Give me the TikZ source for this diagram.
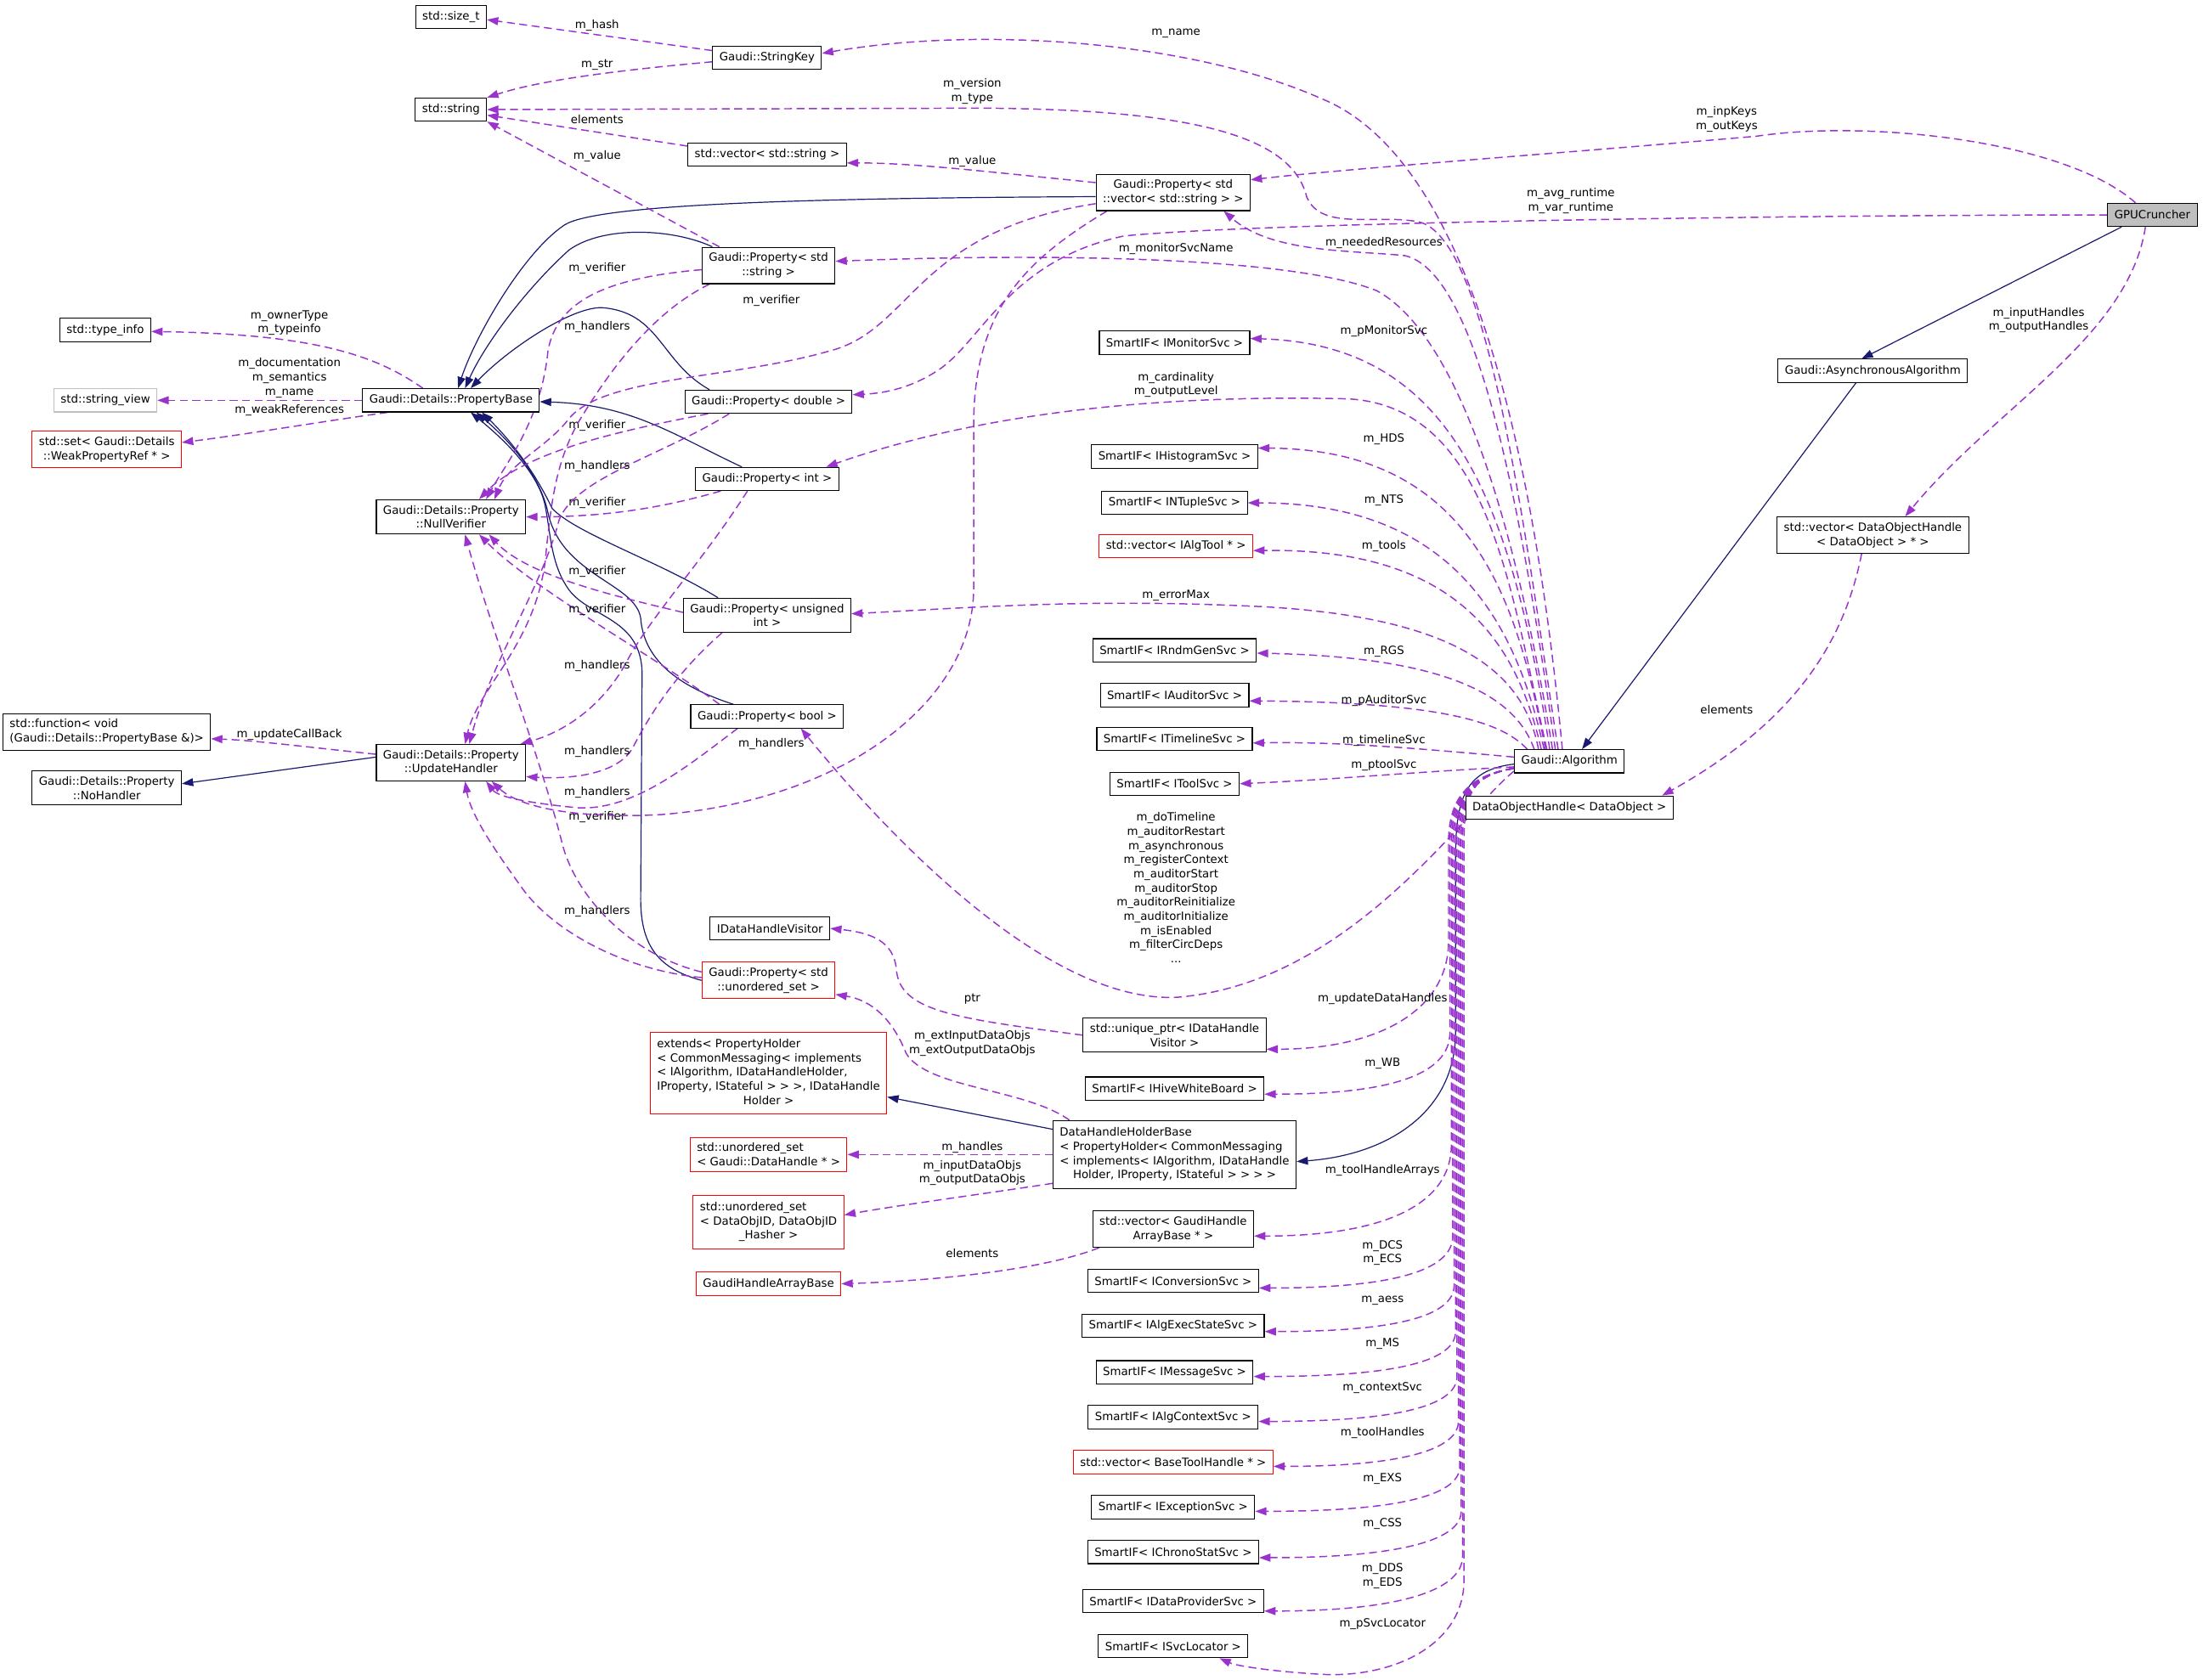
\documentclass[tikz,border=0pt]{standalone}
\usepackage{fontspec}
\setmainfont{DejaVu Sans}
\usepackage{tikz}
\usetikzlibrary{arrows.meta, backgrounds}
\definecolor{cUses}{RGB}{154,50,205}
\definecolor{cInherit}{RGB}{25,25,112}
\definecolor{cGrey}{RGB}{191,191,191}
\tikzset{
	cls/.style     ={rectangle, draw=black, line width=0.8pt, fill=white, inner xsep=6pt, inner ysep=5pt, minimum height=20.5pt, align=center},
	clsred/.style  ={cls, draw=red},
	clsgray/.style ={cls, draw=cGrey},
	clsroot/.style ={cls, fill=cGrey},
	% collaboration edges
	usearrow/.style={draw=cUses, line width=1.1pt, dash pattern=on 7pt off 4pt, -{Triangle[length=10pt, width=7pt]}},
	inharrow/.style={draw=cInherit, line width=0.9pt, -{Triangle[length=10pt, width=7pt]}},
	lbl/.style     ={inner sep=0pt, align=center},
}
\begin{document}
\begin{tikzpicture}[x=1.2405pt, y=-1.2405pt, font=\fontsize{10}{12.5}\selectfont]
	\useasboundingbox (0,0) rectangle (1568,1196);
	% classes
	\node[cls] (sizet) at (321,12) {std::size\_t};
	\node[cls] (strkey) at (546,41) {Gaudi::StringKey};
	\node[cls] (string) at (321,78) {std::string};
	\node[cls] (vecstr) at (546,110) {std::vector< std::string >};
	\node[cls] (pvecstr) at (835,137) {Gaudi::Property< std\\::vector< std::string > >};
	\node[clsroot] (gpu) at (1532,153) {GPUCruncher};
	\node[cls] (pstr) at (547,189) {Gaudi::Property< std\\::string >};
	\node[cls] (monsvc) at (836,244) {SmartIF< IMonitorSvc >};
	\node[cls] (typeinfo) at (75,235) {std::type\_info};
	\node[clsgray] (strview) at (75,285) {std::string\_view};
	\node[cls] (propbase) at (321,285) {Gaudi::Details::PropertyBase};
	\node[clsred] (weakref) at (76,320) {std::set< Gaudi::Details\\::WeakPropertyRef * >};
	\node[cls] (pdouble) at (547,286) {Gaudi::Property< double >};
	\node[cls] (async) at (1333,264) {Gaudi::AsynchronousAlgorithm};
	\node[cls] (hist) at (836,325) {SmartIF< IHistogramSvc >};
	\node[cls] (pint) at (546,341) {Gaudi::Property< int >};
	\node[cls] (nullver) at (321,368) {Gaudi::Details::Property\\::NullVerifier};
	\node[cls] (ntuple) at (836,358) {SmartIF< INTupleSvc >};
	\node[cls] (vecdoh) at (1333,381) {std::vector< DataObjectHandle\\< DataObject > * >};
	\node[clsred] (algtool) at (837,389) {std::vector< IAlgTool * >};
	\node[cls] (punsigned) at (546,438) {Gaudi::Property< unsigned\\int >};
	\node[cls] (rndm) at (836,463) {SmartIF< IRndmGenSvc >};
	\node[cls] (auditor) at (836,495) {SmartIF< IAuditorSvc >};
	\node[cls, align=left] (function) at (76,521) {std::function< void\\(Gaudi::Details::PropertyBase \&)>};
	\node[cls] (pbool) at (546,510) {Gaudi::Property< bool >};
	\node[cls] (timeline) at (836,526) {SmartIF< ITimelineSvc >};
	\node[cls] (updh) at (321,543) {Gaudi::Details::Property\\::UpdateHandler};
	\node[cls] (alg) at (1117,542) {Gaudi::Algorithm};
	\node[cls] (nohandler) at (76,561) {Gaudi::Details::Property\\::NoHandler};
	\node[cls] (toolsvc) at (836,558) {SmartIF< IToolSvc >};
	\node[cls] (doh) at (1117,575) {DataObjectHandle< DataObject >};
	\node[cls] (dhvisitor) at (548,661) {IDataHandleVisitor};
	\node[clsred] (punordered) at (547,698) {Gaudi::Property< std\\::unordered\_set >};
	\node[cls] (uniqueptr) at (836,737) {std::unique\_ptr< IDataHandle\\Visitor >};
	\node[clsred] (extends) at (547,764) {\begin{tabular}{@{}l@{}}extends< PropertyHolder\\< CommonMessaging< implements\\< IAlgorithm, IDataHandleHolder,\\IProperty, IStateful > > >, IDataHandle\\\multicolumn{1}{@{}c@{}}{Holder >}\end{tabular}};
	\node[cls] (hivewb) at (836,775) {SmartIF< IHiveWhiteBoard >};
	\node[cls] (dhhb) at (836,822) {\begin{tabular}{@{}l@{}}DataHandleHolderBase\\< PropertyHolder< CommonMessaging\\< implements< IAlgorithm, IDataHandle\\\multicolumn{1}{@{}c@{}}{Holder, IProperty, IStateful > > > >}\end{tabular}};
	\node[clsred, align=left] (usetdh) at (547,822) {std::unordered\_set\\< Gaudi::DataHandle * >};
	\node[clsred] (usetdoid) at (547,870) {\begin{tabular}{@{}l@{}}std::unordered\_set\\< DataObjID, DataObjID\\\multicolumn{1}{@{}c@{}}{\_Hasher >}\end{tabular}};
	\node[cls] (vecgha) at (835,875) {std::vector< GaudiHandle\\ArrayBase * >};
	\node[clsred] (gha) at (547,914) {GaudiHandleArrayBase};
	\node[cls] (convsvc) at (835,912) {SmartIF< IConversionSvc >};
	\node[cls] (aess) at (835,944) {SmartIF< IAlgExecStateSvc >};
	\node[cls] (msgsvc) at (836,977) {SmartIF< IMessageSvc >};
	\node[cls] (ctxsvc) at (835,1009) {SmartIF< IAlgContextSvc >};
	\node[clsred] (basetool) at (835,1041) {std::vector< BaseToolHandle * >};
	\node[cls] (excsvc) at (835,1073) {SmartIF< IExceptionSvc >};
	\node[cls] (chrono) at (835,1105) {SmartIF< IChronoStatSvc >};
	\node[cls] (dataprov) at (835,1140) {SmartIF< IDataProviderSvc >};
	\node[cls] (svcloc) at (835,1172) {SmartIF< ISvcLocator >};

	\begin{pgfonlayer}{background}
	\fill[white] (0,0) rectangle (1568,1196);
	% inheritance
	\draw[inharrow] ([shift={(-22,0)}]gpu.south) -- ([shift={(-8,0)}]async.north);
	\draw[inharrow] ([shift={(-12,0)}]async.south) -- ([shift={(9,0)}]alg.north);
	\draw[inharrow] ([shift={(0,2)}]alg.west) .. controls (1045,548) and (1036,565) .. (1036,610) -- (1036,735) .. controls (1036,790) and (990,822) .. ([shift={(0,5)}]dhhb.east);
	\draw[inharrow] ([shift={(0,-18)}]dhhb.west) -- ([shift={(0,17)}]extends.east);
	\draw[inharrow] ([shift={(0,-4)}]updh.west) -- ([shift={(0,-3)}]nohandler.east);
	\draw[inharrow] ([shift={(0,3)}]pvecstr.west) .. controls (560,141) and (425,146) .. (402,160) .. controls (372,180) and (338,240) .. ([shift={(5,0)}]propbase.north);
	\draw[inharrow] ([shift={(-40,0)}]pstr.north) .. controls (480,163) and (430,160) .. (405,178) .. controls (375,205) and (345,245) .. ([shift={(10,0)}]propbase.north);
	\draw[inharrow] ([shift={(-42,0)}]pdouble.north) .. controls (470,258) and (470,222) .. (428,219) .. controls (405,219) and (360,250) .. ([shift={(14,0)}]propbase.north);
	\draw[inharrow] ([shift={(-18,0)}]pint.north) .. controls (480,310) and (450,288) .. ([shift={(0,1)}]propbase.east);
	\draw[inharrow] ([shift={(-35,0)}]punsigned.north) .. controls (470,400) and (410,380) .. (393,362) .. controls (385,345) and (370,320) .. ([shift={(22,0)}]propbase.south);
	\draw[inharrow] ([shift={(-24,0)}]pbool.north) .. controls (480,488) and (458,468) .. (456,440) .. controls (452,415) and (400,410) .. (390,365) .. controls (386,345) and (370,320) .. ([shift={(18,0)}]propbase.south);
	\draw[inharrow] (punordered.west) .. controls (470,690) and (456,675) .. (456,640) -- (457,480) .. controls (457,440) and (420,440) .. (405,420) .. controls (392,402) and (392,380) .. (388,360) .. controls (384,340) and (365,318) .. ([shift={(14,0)}]propbase.south);

	% string members
	\draw[usearrow] ([shift={(0,-5)}]strkey.west) -- ([shift={(0,2)}]sizet.east) node[lbl] at (425,18) {m\_hash};
	\draw[usearrow] ([shift={(0,3)}]strkey.west) .. controls (440,50) and (385,57) .. (string.north east) node[lbl] at (425,46) {m\_str};
	\draw[usearrow] ([shift={(0,-6)}]vecstr.west) -- ([shift={(0,4)}]string.east) node[lbl] at (425,85) {elements};
	\draw[usearrow] ([shift={(-35,0)}]pstr.north) -- (string.south east) node[lbl] at (425,111) {m\_value};
	\draw[usearrow] ([shift={(0,-7)}]pvecstr.west) .. controls (700,122) and (650,116) .. ([shift={(0,6)}]vecstr.east) node[lbl] at (692,115) {m\_value};

	% property base members
	\draw[usearrow] ([shift={(-20,0)}]propbase.north) .. controls (270,255) and (230,238) .. ([shift={(0,1)}]typeinfo.east) node[lbl] at (206,230) {m\_ownerType\\m\_typeinfo};
	\draw[usearrow] (propbase.west) -- (strview.east) node[lbl] at (206,269) {m\_documentation\\m\_semantics\\m\_name};
	\draw[usearrow] ([shift={(-45,0)}]propbase.south) .. controls (230,300) and (170,310) .. ([shift={(0,-5)}]weakref.east) node[lbl] at (206,292) {m\_weakReferences};
	\draw[usearrow] ([shift={(0,-6)}]updh.west) .. controls (220,532) and (180,527) .. ([shift={(0,5)}]function.east) node[lbl] at (206,523) {m\_updateCallBack};

	% verifiers
	\draw[usearrow] ([shift={(0,8)}]pvecstr.west) .. controls (650,165) and (650,235) .. (590,250) .. controls (520,270) and (430,268) .. (405,298) .. controls (390,318) and (362,330) .. ([shift={(31,0)}]nullver.north) node[lbl] at (549,214) {m\_verifier};
	\draw[usearrow] ([shift={(0,3)}]pstr.west) .. controls (430,198) and (396,215) .. (390,250) .. controls (385,300) and (360,330) .. ([shift={(25,0)}]nullver.north) node[lbl] at (425,191) {m\_verifier};
	\draw[usearrow] ([shift={(-43,0)}]pdouble.south) .. controls (450,305) and (375,320) .. ([shift={(20,0)}]nullver.north) node[lbl] at (425,303) {m\_verifier};
	\draw[usearrow] ([shift={(-33,0)}]pint.south) .. controls (470,362) and (430,368) .. (nullver.east) node[lbl] at (425,358) {m\_verifier};
	\draw[usearrow] ([shift={(0,-2)}]punsigned.west) .. controls (440,425) and (375,410) .. ([shift={(27,0)}]nullver.south) node[lbl] at (425,407) {m\_verifier};
	\draw[usearrow] ([shift={(-34,0)}]pbool.north) .. controls (470,470) and (380,420) .. ([shift={(20,0)}]nullver.south) node[lbl] at (425,434) {m\_verifier};
	\draw[usearrow] ([shift={(0,-6)}]punordered.west) .. controls (450,680) and (410,640) .. (400,600) .. controls (385,540) and (350,450) .. ([shift={(10,0)}]nullver.south) node[lbl] at (425,582) {m\_verifier};

	% handlers
	\draw[usearrow] ([shift={(8,0)}]pvecstr.south west) .. controls (730,185) and (694,220) .. (693,300) -- (693,420) .. controls (692,500) and (600,570) .. (470,580) .. controls (410,583) and (370,575) .. ([shift={(29,0)}]updh.south) node[lbl] at (425,564) {m\_handlers};
	\draw[usearrow] ([shift={(-42,0)}]pstr.south) .. controls (465,222) and (435,262) .. (412,300) .. controls (395,330) and (392,360) .. (388,400) .. controls (380,460) and (340,490) .. ([shift={(10,0)}]updh.north) node[lbl] at (425,233) {m\_handlers};
	\draw[usearrow] ([shift={(-28,0)}]pdouble.south) .. controls (470,325) and (410,340) .. (398,370) .. controls (385,420) and (350,470) .. ([shift={(13,0)}]updh.north) node[lbl] at (425,332) {m\_handlers};
	\draw[usearrow] ([shift={(-14,0)}]pint.south) .. controls (500,400) and (462,440) .. (445,473) .. controls (430,500) and (405,520) .. ([shift={(-4,0)}]updh.north east) node[lbl] at (425,474) {m\_handlers};
	\draw[usearrow] ([shift={(-32,0)}]punsigned.south) .. controls (480,480) and (462,510) .. (450,533) .. controls (440,550) and (410,555) .. ([shift={(0,10)}]updh.east) node[lbl] at (425,535) {m\_handlers};
	\draw[usearrow] ([shift={(-21,0)}]pbool.south) .. controls (490,545) and (450,578) .. (410,575) .. controls (380,572) and (355,568) .. ([shift={(25,0)}]updh.south) node[lbl] at (549,530) {m\_handlers};
	\draw[usearrow] ([shift={(0,-2)}]punordered.west) .. controls (440,690) and (390,660) .. (370,630) .. controls (352,605) and (335,580) .. ([shift={(10,0)}]updh.south) node[lbl] at (425,649) {m\_handlers};

	% GPUCruncher members
	\draw[usearrow] ([shift={(-12,0)}]gpu.north) .. controls (1470,100) and (1330,85) .. (1250,97) .. controls (1100,110) and (960,120) .. ([shift={(0,-9)}]pvecstr.east) node[lbl] at (1229,85) {m\_inpKeys\\m\_outKeys};
	\draw[usearrow] (gpu.west) .. controls (1300,153) and (900,158) .. (800,168) .. controls (720,185) and (700,240) .. (670,262) .. controls (650,276) and (630,280) .. ([shift={(0,-5)}]pdouble.east) node[lbl] at (1118,143) {m\_avg\_runtime\\m\_var\_runtime};
	\draw[usearrow] ([shift={(-5,0)}]gpu.south) .. controls (1515,240) and (1420,290) .. ([shift={(23,0)}]vecdoh.north) node[lbl] at (1451,228) {m\_inputHandles\\m\_outputHandles};
	\draw[usearrow] ([shift={(-8,0)}]vecdoh.south) .. controls (1312,460) and (1275,515) .. ([shift={(66,0)}]doh.north) node[lbl] at (1229,505) {elements};

	% Algorithm members, upper side
	\draw[usearrow] ([shift={(-5,0)}]alg.north) .. controls (1090,300) and (1040,110) .. (940,70) .. controls (850,30) and (700,18) .. ([shift={(0,-3)}]strkey.east) node[lbl] at (837,24) {m\_name};
	\draw[usearrow] ([shift={(-8,0)}]alg.north) .. controls (1085,380) and (1060,170) .. (1010,158) .. controls (980,152) and (940,165) .. (930,140) .. controls (920,100) and (860,78) .. (700,77) -- (string.east) node[lbl] at (692,65) {m\_version\\m\_type};
	\draw[usearrow] ([shift={(-10,0)}]alg.north) .. controls (1085,380) and (1055,195) .. (1000,182) .. controls (960,178) and (905,180) .. ([shift={(36,0)}]pvecstr.south) node[lbl] at (985,173) {m\_neededResources};
	\draw[usearrow] ([shift={(-12,0)}]alg.north) .. controls (1080,380) and (1040,240) .. (980,207) .. controls (920,183) and (750,180) .. ([shift={(0,-3)}]pstr.east) node[lbl] at (837,177) {m\_monitorSvcName};
	\draw[usearrow] ([shift={(-14,0)}]alg.north) .. controls (1075,350) and (1030,245) .. ([shift={(0,-3)}]monsvc.east) node[lbl] at (985,236) {m\_pMonitorSvc};
	\draw[usearrow] ([shift={(-16,0)}]alg.north) .. controls (1075,420) and (1060,290) .. (960,284) .. controls (800,280) and (680,300) .. ([shift={(42,0)}]pint.north) node[lbl] at (837,274) {m\_cardinality\\m\_outputLevel};
	\draw[usearrow] ([shift={(-17,0)}]alg.north) .. controls (1080,430) and (1050,320) .. ([shift={(0,-6)}]hist.east) node[lbl] at (985,313) {m\_HDS};
	\draw[usearrow] ([shift={(-18,0)}]alg.north) .. controls (1080,450) and (1040,358) .. (ntuple.east) node[lbl] at (985,356) {m\_NTS};
	\draw[usearrow] ([shift={(-20,0)}]alg.north) .. controls (1080,460) and (1040,390) .. ([shift={(0,3)}]algtool.east) node[lbl] at (985,389) {m\_tools};
	\draw[usearrow] ([shift={(-22,0)}]alg.north) .. controls (1085,480) and (1040,440) .. (900,432) .. controls (780,426) and (700,432) .. ([shift={(0,-1)}]punsigned.east) node[lbl] at (837,424) {m\_errorMax};
	\draw[usearrow] ([shift={(-25,0)}]alg.north) .. controls (1080,500) and (1040,468) .. ([shift={(0,2)}]rndm.east) node[lbl] at (985,464) {m\_RGS};
	\draw[usearrow] ([shift={(-30,0)}]alg.north) .. controls (1070,515) and (1030,500) .. ([shift={(0,4)}]auditor.east) node[lbl] at (985,499) {m\_pAuditorSvc};
	\draw[usearrow] ([shift={(0,-3)}]alg.west) .. controls (1000,532) and (950,528) .. ([shift={(0,3)}]timeline.east) node[lbl] at (985,527) {m\_timelineSvc};
	\draw[usearrow] ([shift={(0,4)}]alg.west) .. controls (1000,550) and (950,555) .. (toolsvc.east) node[lbl] at (985,545) {m\_ptoolSvc};
	\draw[usearrow] ([shift={(0,7)}]alg.west) .. controls (1040,580) and (960,700) .. (838,710) .. controls (740,715) and (620,580) .. ([shift={(24,0)}]pbool.south) node[lbl] at (837,632) {m\_doTimeline\\m\_auditorRestart\\m\_asynchronous\\m\_registerContext\\m\_auditorStart\\m\_auditorStop\\m\_auditorReinitialize\\m\_auditorInitialize\\m\_isEnabled\\m\_filterCircDeps\\...};

	% Algorithm members, lower side
	\draw[usearrow] ([shift={(0,5)}]alg.west) .. controls (1048,552) and (1031,565) .. (1031,600) -- (1031,670) .. controls (1031,720) and (980,747) .. ([shift={(0,10)}]uniqueptr.east) node[lbl] at (984,711) {m\_updateDataHandles};
	\draw[usearrow] ([shift={(0,5)}]alg.west) .. controls (1048,552) and (1032,565) .. (1032,600) -- (1032,735) .. controls (1032,765) and (990,779) .. ([shift={(0,4)}]hivewb.east) node[lbl] at (984,757) {m\_WB};
	\draw[usearrow] ([shift={(0,5)}]alg.west) .. controls (1048,552) and (1033,565) .. (1033,600) -- (1033,815) .. controls (1033,860) and (980,880) .. ([shift={(0,5)}]vecgha.east) node[lbl] at (984,833) {m\_toolHandleArrays};
	\draw[usearrow] ([shift={(0,5)}]alg.west) .. controls (1048,552) and (1034,565) .. (1034,600) -- (1034,880) .. controls (1034,905) and (990,917) .. ([shift={(0,5)}]convsvc.east) node[lbl] at (984,892) {m\_DCS\\m\_ECS};
	\draw[usearrow] ([shift={(0,5)}]alg.west) .. controls (1048,552) and (1035,565) .. (1035,600) -- (1035,915) .. controls (1035,938) and (990,948) .. ([shift={(0,4)}]aess.east) node[lbl] at (984,926) {m\_aess};
	\draw[usearrow] ([shift={(0,5)}]alg.west) .. controls (1048,552) and (1036,565) .. (1036,600) -- (1036,948) .. controls (1036,970) and (990,980) .. ([shift={(0,3)}]msgsvc.east) node[lbl] at (984,957) {m\_MS};
	\draw[usearrow] ([shift={(0,5)}]alg.west) .. controls (1048,552) and (1037,565) .. (1037,600) -- (1037,980) .. controls (1037,1002) and (990,1012) .. ([shift={(0,3)}]ctxsvc.east) node[lbl] at (984,988) {m\_contextSvc};
	\draw[usearrow] ([shift={(0,5)}]alg.west) .. controls (1048,552) and (1038,565) .. (1038,600) -- (1038,1012) .. controls (1038,1034) and (990,1044) .. ([shift={(0,3)}]basetool.east) node[lbl] at (984,1020) {m\_toolHandles};
	\draw[usearrow] ([shift={(0,5)}]alg.west) .. controls (1048,552) and (1039,565) .. (1039,600) -- (1039,1044) .. controls (1039,1066) and (990,1076) .. ([shift={(0,3)}]excsvc.east) node[lbl] at (984,1053) {m\_EXS};
	\draw[usearrow] ([shift={(0,5)}]alg.west) .. controls (1048,552) and (1040,565) .. (1040,600) -- (1040,1076) .. controls (1040,1098) and (990,1109) .. ([shift={(0,4)}]chrono.east) node[lbl] at (984,1085) {m\_CSS};
	\draw[usearrow] ([shift={(0,5)}]alg.west) .. controls (1048,552) and (1041,565) .. (1041,600) -- (1041,1108) .. controls (1041,1134) and (990,1147) .. ([shift={(0,7)}]dataprov.east) node[lbl] at (984,1122) {m\_DDS\\m\_EDS};
	\draw[usearrow] ([shift={(0,5)}]alg.west) .. controls (1048,552) and (1042,565) .. (1042,600) -- (1042,1125) .. controls (1042,1172) and (990,1195) .. (940,1192) .. controls (905,1190) and (880,1186) .. ([shift={(33,0)}]svcloc.south) node[lbl] at (984,1156) {m\_pSvcLocator};

	% data handle members
	\draw[usearrow] (uniqueptr.west) .. controls (680,725) and (640,720) .. (638,690) .. controls (636,670) and (620,664) .. (dhvisitor.east) node[lbl] at (692,711) {ptr};
	\draw[usearrow] ([shift={(12,0)}]dhhb.north west) .. controls (730,775) and (660,775) .. (645,750) .. controls (635,725) and (620,712) .. ([shift={(0,10)}]punordered.east) node[lbl] at (692,743) {m\_extInputDataObjs\\m\_extOutputDataObjs};
	\draw[usearrow] (dhhb.west) -- (usetdh.east) node[lbl] at (692,817) {m\_handles};
	\draw[usearrow] ([shift={(0,-4)}]dhhb.south west) .. controls (700,850) and (640,858) .. ([shift={(0,-5)}]usetdoid.east) node[lbl] at (692,835) {m\_inputDataObjs\\m\_outputDataObjs};
	\draw[usearrow] ([shift={(5,0)}]vecgha.south west) .. controls (740,905) and (660,912) .. (gha.east) node[lbl] at (692,892) {elements};
	\end{pgfonlayer}
\end{tikzpicture}
\end{document}
